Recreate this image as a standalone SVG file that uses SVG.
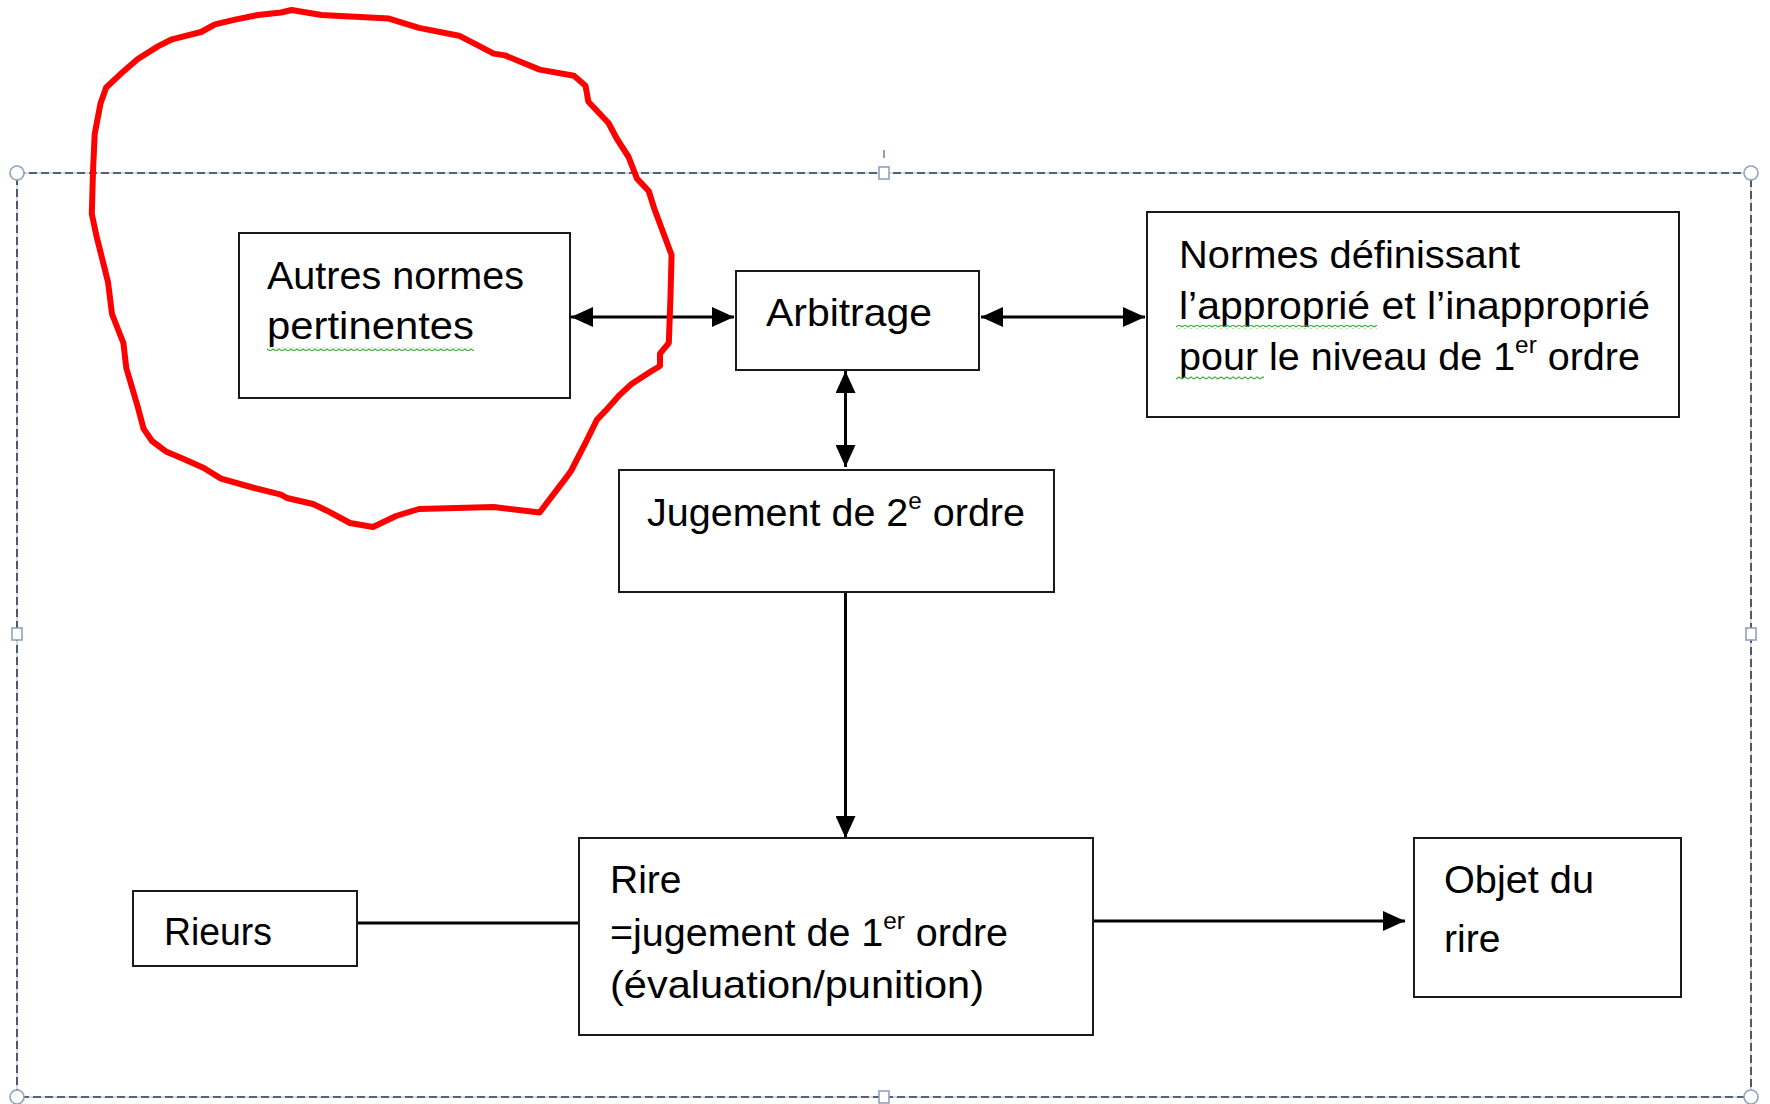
<svg xmlns="http://www.w3.org/2000/svg" width="1770" height="1104" viewBox="0 0 1770 1104">
<defs>
<style>
.box{fill:#ffffff;stroke:#1a1a1a;stroke-width:2}
.t{font-family:"Liberation Sans",Arial,sans-serif;font-size:39px;fill:#000}
.sup{font-size:24px}
.con{stroke:#000;stroke-width:3;fill:none}
.frame-bg{fill:none;stroke:#a9b8cc;stroke-width:1}
.frame{fill:none;stroke:#2f3a48;stroke-width:1.6;stroke-dasharray:8 4}
.handle{fill:#ffffff;stroke:#8ea2bd;stroke-width:1.6}
</style>
<pattern id="sq" x="0" y="0" width="6" height="4" patternUnits="userSpaceOnUse">
<path d="M0,3 L3,1 L6,3" fill="none" stroke="#3fae3f" stroke-width="1.2"/>
</pattern>
<marker id="ah" viewBox="0 0 22 20" refX="22" refY="10" markerWidth="22" markerHeight="20" markerUnits="userSpaceOnUse" orient="auto-start-reverse">
<path d="M0,0 L22,10 L0,20 Z" fill="#000"/>
</marker>
</defs>
<rect width="1770" height="1104" fill="#ffffff"/>

<g id="frame">
<rect class="frame-bg" x="17" y="173" width="1734" height="924"/>
<rect class="frame" x="17" y="173" width="1734" height="924"/>
<line x1="884" y1="150" x2="884" y2="158" stroke="#6a7f9c" stroke-width="1.5"/>
<circle class="handle" cx="17" cy="173" r="7"/>
<circle class="handle" cx="1751" cy="173" r="7"/>
<circle class="handle" cx="17" cy="1097" r="7"/>
<circle class="handle" cx="1751" cy="1097" r="7"/>
<rect class="handle" x="879" y="167" width="10" height="12"/>
<rect class="handle" x="879" y="1091" width="10" height="12"/>
<rect class="handle" x="12" y="628" width="10" height="12"/>
<rect class="handle" x="1746" y="628" width="10" height="12"/>
</g>

<g id="connectors">
<line class="con" x1="571" y1="317" x2="734" y2="317" marker-start="url(#ah)" marker-end="url(#ah)"/>
<line class="con" x1="981" y1="317" x2="1145" y2="317" marker-start="url(#ah)" marker-end="url(#ah)"/>
<line class="con" x1="845.5" y1="371" x2="845.5" y2="467" marker-start="url(#ah)" marker-end="url(#ah)"/>
<line class="con" x1="845.5" y1="593" x2="845.5" y2="838" marker-end="url(#ah)"/>
<line class="con" x1="357" y1="923" x2="579" y2="923"/>
<line class="con" x1="1093" y1="921" x2="1405" y2="921" marker-end="url(#ah)"/>
</g>

<g id="autres">
<rect class="box" x="239" y="233" width="331" height="165"/>
<text class="t" x="267" y="289" textLength="257" lengthAdjust="spacingAndGlyphs">Autres normes</text>
<text class="t" x="267" y="339" textLength="207" lengthAdjust="spacingAndGlyphs">pertinentes</text>
<rect x="267" y="347" width="207" height="4" fill="url(#sq)"/>
</g>

<g id="arbitrage">
<rect class="box" x="736" y="271" width="243" height="99"/>
<text class="t" x="766" y="326" textLength="166" lengthAdjust="spacingAndGlyphs">Arbitrage</text>
</g>

<g id="normes">
<rect class="box" x="1147" y="212" width="532" height="205"/>
<text class="t" x="1179" y="268" textLength="341" lengthAdjust="spacingAndGlyphs">Normes définissant</text>
<text class="t" x="1179" y="319" textLength="471" lengthAdjust="spacingAndGlyphs">l’approprié et l’inapproprié</text>
<text class="t" x="1179" y="370" textLength="461" lengthAdjust="spacingAndGlyphs">pour le niveau de 1<tspan class="sup" dy="-17">er</tspan><tspan dy="17"> ordre</tspan></text>
<rect x="1176" y="325" width="201" height="4" fill="url(#sq)"/>
<rect x="1176" y="376" width="88" height="4" fill="url(#sq)"/>
</g>

<g id="jugement2">
<rect class="box" x="619" y="470" width="435" height="122"/>
<text class="t" x="647" y="526" textLength="378" lengthAdjust="spacingAndGlyphs">Jugement de 2<tspan class="sup" dy="-17">e</tspan><tspan dy="17"> ordre</tspan></text>
</g>

<g id="rire">
<rect class="box" x="579" y="838" width="514" height="197"/>
<text class="t" x="610" y="893">Rire</text>
<text class="t" x="610" y="946" textLength="398" lengthAdjust="spacingAndGlyphs">=jugement de 1<tspan class="sup" dy="-17">er</tspan><tspan dy="17"> ordre</tspan></text>
<text class="t" x="610" y="998" textLength="374" lengthAdjust="spacingAndGlyphs">(évaluation/punition)</text>
</g>

<g id="rieurs">
<rect class="box" x="133" y="891" width="224" height="75"/>
<text class="t" x="164" y="945" textLength="108" lengthAdjust="spacingAndGlyphs">Rieurs</text>
</g>

<g id="objet">
<rect class="box" x="1414" y="838" width="267" height="159"/>
<text class="t" x="1444" y="893" textLength="150" lengthAdjust="spacingAndGlyphs">Objet du</text>
<text class="t" x="1444" y="952">rire</text>
</g>

<g id="red-circle">
<path d="M291.6,10 L321.5,15 L389,18.6 L419,27.9 L459,35.7 L476.5,44.6 L493.7,53.6 L505,55.4 L539.6,69.6 L574,75.7 L585.5,85.7 L588.4,101.8 L608.5,123 L617,139 L628.6,157 L637,178.6 L648.7,191 L654.4,209 L663,232 L671.6,255 L670.5,296 L668.8,343 L660,353.6 L660,366 L651.6,371 L631.5,384 L620,394.6 L605.6,410.7 L597,419.6 L585.5,442.9 L571,471 L565.4,478.6 L539.6,512.5 L493.7,507 L419,509 L396,516 L373,527 L350,523 L327,510.7 L313,504 L287,498 L281,494.6 L252.6,487.5 L221,478.6 L203.8,468 L183.7,459 L166.5,451.8 L152,441 L143.5,428.6 L137.8,407 L126.3,368 L123.4,343 L112,314 L108,282 L100.5,252 L96.4,235.7 L91.8,214 L93,171.4 L94.7,134 L100.5,103.6 L106.2,87.5 L123.4,71.4 L137.8,59 L157.9,46.4 L172,39.3 L201,32 L215,24.3 L235,19.6 L258,15 L281,12.5 Z" fill="none" stroke="#ff0000" stroke-width="6" stroke-linejoin="round" stroke-linecap="round"/>
</g>
</svg>
